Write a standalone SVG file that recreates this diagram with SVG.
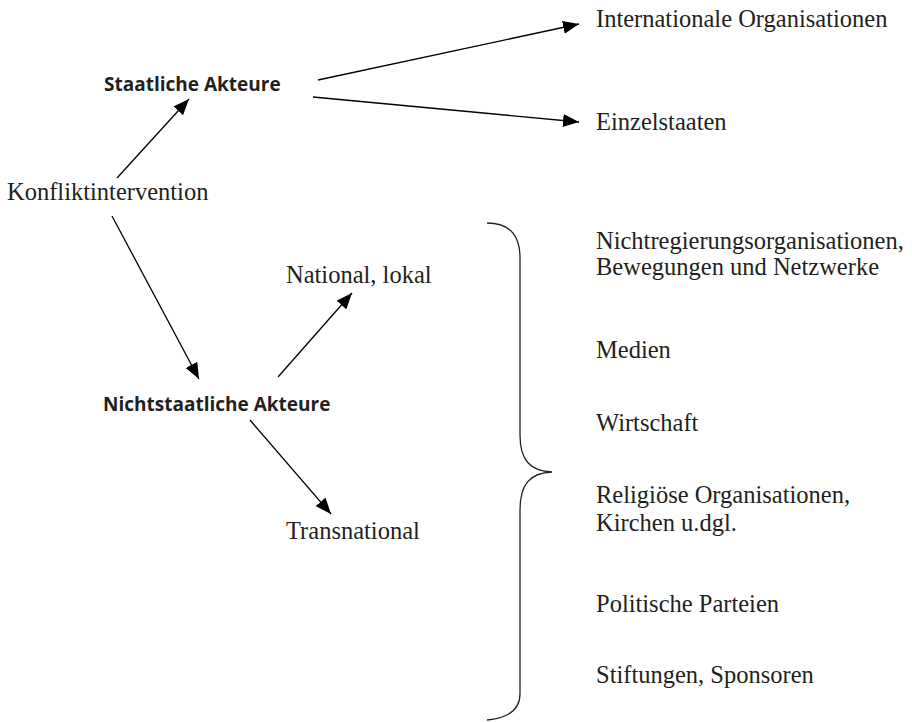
<svg xmlns="http://www.w3.org/2000/svg" width="912" height="722" viewBox="0 0 912 722">
  <defs>
    <marker id="arrow" markerUnits="userSpaceOnUse" markerWidth="18" markerHeight="14" refX="16" refY="6.5" orient="auto">
      <path d="M0,0 L16,6.5 L0,13 z" fill="#000"/>
    </marker>
    <style>
      .serif { font-family: "Liberation Serif", "Times New Roman", serif; font-size: 24.5px; fill: #231f20; }
      .bold { font-family: "Open Sans", "DejaVu Sans", sans-serif; font-weight: bold; font-size: 19px; fill: #231f20; }
      .edge { stroke: #000; stroke-width: 1.3; fill: none; marker-end: url(#arrow); }
      .brace { stroke: #231f20; stroke-width: 1.3; fill: none; }
    </style>
  </defs>
  <rect width="912" height="722" fill="#fff"/>

  <g id="connectors">
    <line class="edge" x1="117" y1="178" x2="189" y2="99"/>
    <line class="edge" x1="318" y1="80" x2="579" y2="24"/>
    <line class="edge" x1="313" y1="97" x2="579" y2="122"/>
    <line class="edge" x1="112" y1="216" x2="199" y2="379"/>
    <line class="edge" x1="278" y1="377" x2="352" y2="293"/>
    <line class="edge" x1="250" y1="420" x2="331" y2="514"/>
  </g>

  <g id="node-konfliktintervention">
    <text class="serif" x="7" y="200">Konfliktintervention</text>
  </g>
  <g id="node-staatliche">
    <text class="bold" x="104" y="91">Staatliche Akteure</text>
  </g>
  <g id="node-international">
    <text class="serif" x="596" y="27">Internationale Organisationen</text>
  </g>
  <g id="node-einzelstaaten">
    <text class="serif" x="596" y="130">Einzelstaaten</text>
  </g>
  <g id="node-nichtstaatliche">
    <text class="bold" x="103" y="411">Nichtstaatliche Akteure</text>
  </g>
  <g id="node-national">
    <text class="serif" x="286" y="283">National, lokal</text>
  </g>
  <g id="node-transnational">
    <text class="serif" x="286" y="539">Transnational</text>
  </g>

  <g id="brace">
    <path class="brace" d="M487,223 C510,223 520,235 520,258 L520,435 C520,460 530,471 552,472 C530,473 520,484 520,510 L520,694 C520,710 508,718 487,720"/>
  </g>

  <g id="node-list">
    <text class="serif" x="596" y="249">Nichtregierungsorganisationen,</text>
    <text class="serif" x="596" y="275">Bewegungen und Netzwerke</text>
    <text class="serif" x="596" y="358">Medien</text>
    <text class="serif" x="596" y="431">Wirtschaft</text>
    <text class="serif" x="596" y="503">Religiöse Organisationen,</text>
    <text class="serif" x="596" y="531">Kirchen u.dgl.</text>
    <text class="serif" x="596" y="612">Politische Parteien</text>
    <text class="serif" x="596" y="683">Stiftungen, Sponsoren</text>
  </g>
</svg>
